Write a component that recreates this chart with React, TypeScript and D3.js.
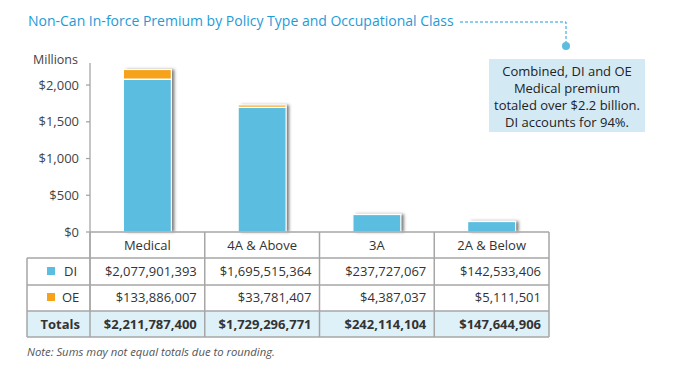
import React from "react";
import * as d3 from "d3";

const categories = ["Medical", "4A & Above", "3A", "2A & Below"];
const diValues = [2077901393, 1695515364, 237727067, 142533406];
const oeValues = [133886007, 33781407, 4387037, 5111501];
const totalValues = [2211787400, 1729296771, 242114104, 147644906];
const yTicks = [0, 500, 1000, 1500, 2000];
const seriesNames = ["DI", "OE"];
const calloutLines = [
  "Combined, DI and OE",
  "Medical premium",
  "totaled over $2.2 billion.",
  "DI accounts for 94%.",
];

const W = 674;
const H = 375;
const BLUE = "#5bbde0";
const ORANGE = "#f7a21b";
const TITLE = "#1e9bd7";
const GRID = "#a6a6a6";
const FONT = "'Open Sans', 'Noto Sans', sans-serif";

export default function App() {
  const x = d3.scaleBand<string>().domain(categories).range([90, 549]).paddingInner(0).paddingOuter(0);
  const y = d3.scaleLinear().domain([0, 2300]).range([232, 63]);
  const barW = 48;
  const fmtM = (v: number) => v / 1e6;
  const fmt = d3.format("$,");
  const tickFmt = (v: number) => "$" + d3.format(",")(v);

  const rowY = [232, 258, 285, 311, 337];
  const leftX = 27;
  const colEdges = categories.map((c) => x(c)!).concat([549]);

  return (
    <svg width={W} height={H} style={{ position: "absolute", left: 0, top: 0, background: "#fff" }} fontFamily={FONT}>
      <defs>
        <filter id="sh" x="-20%" y="-20%" width="150%" height="150%">
          <feDropShadow dx="3" dy="0" stdDeviation="1.4" floodColor="#444" floodOpacity="0.7" />
        </filter>
      </defs>
      {/* Title */}
      <text x={28} y={26} fontSize={14} fill={TITLE}>
        Non-Can In-force Premium by Policy Type and Occupational Class
      </text>
      <path d="M460,22 H566 V44" fill="none" stroke={TITLE} strokeWidth={1} strokeDasharray="3,2" />
      <circle cx={566} cy={46} r={4} fill={BLUE} />
      {/* Callout */}
      <rect x={489} y={59} width={156} height={73} fill="#d3eaf5" />
      {calloutLines.map((l, i) => (
        <text key={i} x={567} y={76 + i * 17} fontSize={13} textAnchor="middle" fill="#222">
          {l}
        </text>
      ))}
      {/* Y axis */}
      <text x={78} y={64} fontSize={12.5} textAnchor="end" fill="#444">Millions</text>
      <line x1={90} x2={90} y1={63} y2={337} stroke={GRID} strokeWidth={1.3} />
      {yTicks.map((t) => (
        <g key={t}>
          <line x1={86} x2={90} y1={y(t)} y2={y(t)} stroke={GRID} strokeWidth={1.3} />
          <text x={79} y={y(t) + 4.5} fontSize={13} textAnchor="end" fill="#444">
            {tickFmt(t)}
          </text>
        </g>
      ))}
      {/* Bars */}
      {categories.map((c, i) => {
        const cx = x(c)! + x.bandwidth() / 2;
        const x0 = cx - barW / 2;
        const yDi = y(fmtM(diValues[i]));
        const yTot = y(fmtM(diValues[i] + oeValues[i]));
        return (
          <g key={c}>
            <rect x={x0} y={yTot} width={barW} height={232 - yTot} fill="#fff" filter="url(#sh)" />
            <rect x={x0} y={yTot} width={barW} height={yDi - yTot} fill={ORANGE} stroke="#fff" strokeWidth={1.2} />
            <rect x={x0} y={yDi} width={barW} height={232 - yDi} fill={BLUE} stroke="#fff" strokeWidth={1.2} />
          </g>
        );
      })}
      {/* Table */}
      <rect x={leftX} y={rowY[3]} width={549 - leftX} height={rowY[4] - rowY[3]} fill="#dff1f8" />
      <line x1={90} x2={549} y1={rowY[0]} y2={rowY[0]} stroke={GRID} strokeWidth={1.5} />
      {rowY.slice(1).map((ry) => (
        <line key={ry} x1={leftX} x2={549} y1={ry} y2={ry} stroke={GRID} strokeWidth={1.5} />
      ))}
      <line x1={leftX} x2={leftX} y1={rowY[1]} y2={rowY[4]} stroke={GRID} strokeWidth={1.5} />
      {colEdges.map((cx, i) => (
        <line key={i} x1={cx} x2={cx} y1={rowY[0]} y2={rowY[4]} stroke={GRID} strokeWidth={1.5} />
      ))}
      {categories.map((c) => (
        <text key={c} x={x(c)! + x.bandwidth() / 2} y={250} fontSize={13} textAnchor="middle" fill="#333">
          {c}
        </text>
      ))}
      {/* legend cells */}
      <rect x={47} y={267} width={8} height={8} fill={BLUE} />
      <text x={64} y={276} fontSize={13} fill="#333">{seriesNames[0]}</text>
      <rect x={47} y={293} width={8} height={8} fill={ORANGE} />
      <text x={62} y={302} fontSize={13} fill="#333">{seriesNames[1]}</text>
      <text x={80} y={329} fontSize={13} fontWeight="bold" textAnchor="end" fill="#333">Totals</text>
      {categories.map((c, i) => {
        const rx = x(c)! + x.bandwidth() - 8;
        return (
          <g key={c}>
            <text x={rx} y={276} fontSize={13} textAnchor="end" fill="#333">{fmt(diValues[i])}</text>
            <text x={rx} y={302} fontSize={13} textAnchor="end" fill="#333">{fmt(oeValues[i])}</text>
            <text x={rx} y={329} fontSize={13} fontWeight="bold" textAnchor="end" fill="#333">{fmt(totalValues[i])}</text>
          </g>
        );
      })}
      <text x={27} y={356} fontSize={11.3} fontStyle="italic" fill="#555">
        Note: Sums may not equal totals due to rounding.
      </text>
    </svg>
  );
}
